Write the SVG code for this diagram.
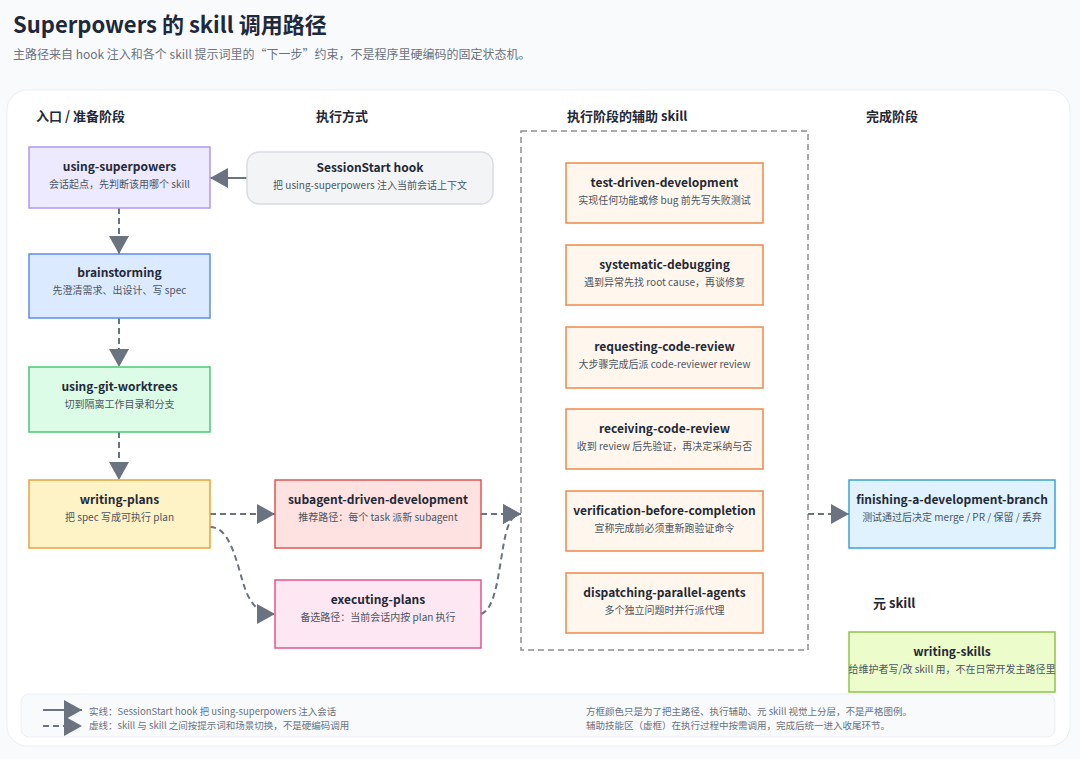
<svg xmlns="http://www.w3.org/2000/svg" width="1080" height="759" viewBox="0 0 1080 759">
<defs>
<style>
text{font-family:"Noto Sans CJK SC","Noto Sans",sans-serif}
.t{font-size:12px;font-weight:700;fill:#1f2937;text-anchor:middle}
.s{font-size:10px;fill:#4b5563;text-anchor:middle}
.h{font-size:13px;font-weight:700;fill:#1f2937}
.lg{font-size:9.5px;fill:#6b7280}
.n{stroke-width:1.5}
.e{fill:none;stroke:#6b7280;stroke-width:2;stroke-dasharray:6 4}
.es{fill:none;stroke:#6b7280;stroke-width:2}
.helper{fill:#fff7ed;stroke:#f08849;stroke-width:1.5}
</style>
<marker id="ah" markerUnits="userSpaceOnUse" markerWidth="18" markerHeight="20" refX="18" refY="10" orient="auto" viewBox="0 0 18 20">
<path d="M0,0 L18,10 L0,20 z" fill="#6b7280"/>
</marker>
</defs>
<rect x="0" y="0" width="1080" height="759" fill="#f8fafc"/>
<text x="13" y="33" font-size="22" font-weight="700" fill="#1e293b">Superpowers 的 skill 调用路径</text>
<text x="13" y="59" font-size="12" fill="#6b7280">主路径来自 hook 注入和各个 skill 提示词里的“下一步”约束，不是程序里硬编码的固定状态机。</text>
<rect x="7" y="90" width="1063" height="656" rx="20" fill="#ffffff" stroke="#eceff3" stroke-width="1"/>

<text class="h" x="36" y="121">入口 / 准备阶段</text>
<text class="h" x="316" y="121">执行方式</text>
<text class="h" x="567" y="121">执行阶段的辅助 skill</text>
<text class="h" x="866" y="121">完成阶段</text>
<text class="h" x="873" y="608">元 skill</text>

<rect x="521" y="131" width="287" height="519" fill="none" stroke="#8f8f8f" stroke-width="1.5" stroke-dasharray="6 4"/>

<g id="connectors">
<path class="es" d="M247,178 L210,178" marker-end="url(#ah)"/>
<path class="e" d="M119,208 L119,254" marker-end="url(#ah)"/>
<path class="e" d="M119,318 L119,367" marker-end="url(#ah)"/>
<path class="e" d="M119,432 L119,480" marker-end="url(#ah)"/>
<path class="e" d="M210,514 L275,514" marker-end="url(#ah)"/>
<path class="e" d="M210,527 C226,527 233,548 240,572 C246,594 252,614 275,614" marker-end="url(#ah)"/>
<path class="e" d="M481,514 L521,514" marker-end="url(#ah)"/>
<path class="e" d="M481,614 C493,610 497,585 501,560 C505,535 508,514 521,514" marker-end="url(#ah)"/>
<path class="e" d="M808,514 L849,514" marker-end="url(#ah)"/>
</g>

<g id="using-superpowers">
<rect class="n" x="29" y="147" width="181" height="61" fill="#ede9fe" stroke="#b197f5"/>
<text class="t" x="119.5" y="171">using-superpowers</text>
<text class="s" x="119.5" y="188">会话起点，先判断该用哪个 skill</text>
</g>
<g id="session-start-hook">
<rect class="n" x="247" y="152" width="246" height="52" rx="12" fill="#f3f4f6" stroke="#d9dce1"/>
<text class="t" x="370" y="172">SessionStart hook</text>
<text class="s" x="370" y="189">把 using-superpowers 注入当前会话上下文</text>
</g>
<g id="brainstorming">
<rect class="n" x="29" y="254" width="181" height="64" fill="#dbeafe" stroke="#5b8def"/>
<text class="t" x="119.5" y="277">brainstorming</text>
<text class="s" x="119.5" y="294">先澄清需求、出设计、写 spec</text>
</g>
<g id="using-git-worktrees">
<rect class="n" x="29" y="367" width="181" height="65" fill="#dcfce7" stroke="#4cc77a"/>
<text class="t" x="119.5" y="391">using-git-worktrees</text>
<text class="s" x="119.5" y="408">切到隔离工作目录和分支</text>
</g>
<g id="writing-plans">
<rect class="n" x="29" y="480" width="181" height="68" fill="#fef3c7" stroke="#e9a23b"/>
<text class="t" x="119.5" y="504">writing-plans</text>
<text class="s" x="119.5" y="521">把 spec 写成可执行 plan</text>
</g>
<g id="subagent-driven-development">
<rect class="n" x="275" y="480" width="206" height="68" fill="#fee2e2" stroke="#e05656"/>
<text class="t" x="378" y="504">subagent-driven-development</text>
<text class="s" x="378" y="521">推荐路径：每个 task 派新 subagent</text>
</g>
<g id="executing-plans">
<rect class="n" x="275" y="580" width="206" height="68" fill="#fce7f3" stroke="#e2558f"/>
<text class="t" x="378" y="604">executing-plans</text>
<text class="s" x="378" y="621">备选路径：当前会话内按 plan 执行</text>
</g>

<g id="test-driven-development">
<rect class="helper" x="566" y="163" width="197" height="60"/>
<text class="t" x="664.5" y="187">test-driven-development</text>
<text class="s" x="664.5" y="204">实现任何功能或修 bug 前先写失败测试</text>
</g>
<g id="systematic-debugging">
<rect class="helper" x="566" y="245" width="197" height="60"/>
<text class="t" x="664.5" y="269">systematic-debugging</text>
<text class="s" x="664.5" y="286">遇到异常先找 root cause，再谈修复</text>
</g>
<g id="requesting-code-review">
<rect class="helper" x="566" y="327" width="197" height="61"/>
<text class="t" x="664.5" y="351">requesting-code-review</text>
<text class="s" x="664.5" y="368">大步骤完成后派 code-reviewer review</text>
</g>
<g id="receiving-code-review">
<rect class="helper" x="566" y="409" width="197" height="60"/>
<text class="t" x="664.5" y="433">receiving-code-review</text>
<text class="s" x="664.5" y="450">收到 review 后先验证，再决定采纳与否</text>
</g>
<g id="verification-before-completion">
<rect class="helper" x="566" y="491" width="197" height="60"/>
<text class="t" x="664.5" y="515">verification-before-completion</text>
<text class="s" x="664.5" y="532">宣称完成前必须重新跑验证命令</text>
</g>
<g id="dispatching-parallel-agents">
<rect class="helper" x="566" y="573" width="197" height="60"/>
<text class="t" x="664.5" y="597">dispatching-parallel-agents</text>
<text class="s" x="664.5" y="614">多个独立问题时并行派代理</text>
</g>

<g id="finishing-a-development-branch">
<rect class="n" x="849" y="480" width="206" height="68" fill="#e0f2fe" stroke="#38a3d9"/>
<text class="t" x="952" y="504">finishing-a-development-branch</text>
<text class="s" x="952" y="521">测试通过后决定 merge / PR / 保留 / 丢弃</text>
</g>
<g id="writing-skills">
<rect class="n" x="849" y="632" width="206" height="60" fill="#ecfccb" stroke="#8fc34a"/>
<text class="t" x="952" y="656">writing-skills</text>
<text class="s" x="952" y="673">给维护者写/改 skill 用，不在日常开发主路径里</text>
</g>

<g id="legend">
<rect x="21" y="694" width="1034" height="43" rx="8" fill="#f8fafc" stroke="#eceff3"/>
<path class="es" d="M43,710 L82,710" marker-end="url(#ah)"/>
<path class="e" d="M43,726 L82,726" marker-end="url(#ah)"/>
<text class="lg" x="89" y="715">实线：SessionStart hook 把 using-superpowers 注入会话</text>
<text class="lg" x="89" y="729">虚线：skill 与 skill 之间按提示词和场景切换，不是硬编码调用</text>
<text class="lg" x="586" y="715">方框颜色只是为了把主路径、执行辅助、元 skill 视觉上分层，不是严格图例。</text>
<text class="lg" x="586" y="729">辅助技能区（虚框）在执行过程中按需调用，完成后统一进入收尾环节。</text>
</g>
</svg>
